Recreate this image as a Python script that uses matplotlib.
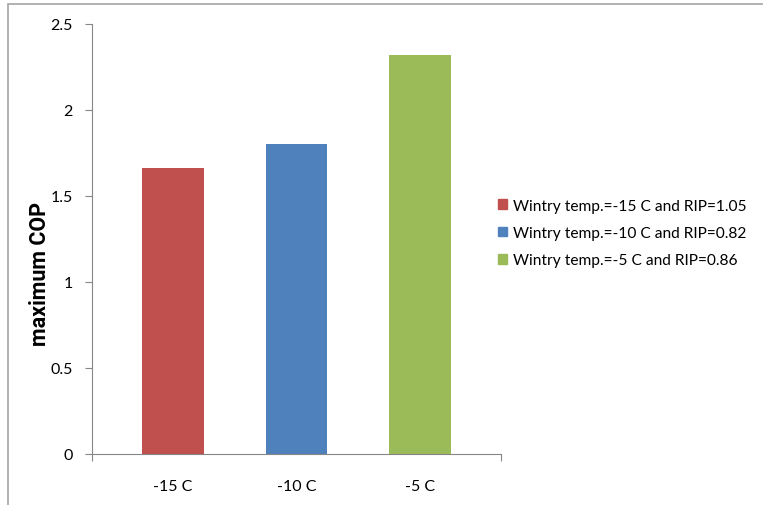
import matplotlib.pyplot as plt
from matplotlib.patches import Rectangle

categories = ["-15 C", "-10 C", "-5 C"]
cop = [1.66, 1.80, 2.32]
legend_labels = ["Wintry temp.=-15 C and RIP=1.05",
                 "Wintry temp.=-10 C and RIP=0.82",
                 "Wintry temp.=-5 C and RIP=0.86"]
colors = ["#C0504D", "#4F81BD", "#9BBB59"]

plt.rcParams['font.family'] = ['Lato', 'DejaVu Sans']

W, H = 763, 506
fig = plt.figure(figsize=(W / 100, H / 100), dpi=100)
ax = fig.add_axes([92 / W, 1 - 455 / H, (501 - 92) / W, (455 - 25) / H])

x = list(range(len(categories)))
bars = ax.bar(x, cop, width=0.5, color=colors, label=legend_labels)

ax.set_xlim(-0.656, 2.656)
ax.set_ylim(0, 2.5)
ax.set_yticks([0, 0.5, 1, 1.5, 2, 2.5])
ax.set_yticklabels(["0", "0.5", "1", "1.5", "2", "2.5"], fontsize=11.5)

# category ticks only at the axis ends, labels under the bars
ax.set_xticks([-0.656, 2.656])
ax.set_xticklabels(["", ""])
ax.set_xticks(x, minor=True)
ax.set_xticklabels(categories, minor=True, fontsize=11.5)
ax.tick_params(axis='x', which='minor', length=0, pad=18)
ax.tick_params(axis='x', which='major', length=5, color="#868686")
ax.tick_params(axis='y', length=5, color="#868686", pad=9)

for s in ["top", "right"]:
    ax.spines[s].set_visible(False)
for s in ["left", "bottom"]:
    ax.spines[s].set_color("#868686")

ax.set_ylabel("maximum COP", fontsize=15.5, fontweight="bold",
              family=["Roboto", "DejaVu Sans"])
ax.yaxis.set_label_coords(-0.1, 0.42)

handles = [Rectangle((0, 0), 1, 1, color=c) for c in colors]
fig.legend(handles, legend_labels, loc="center left",
           bbox_to_anchor=(484 / W, 1 - 234 / H), frameon=False,
           fontsize=11.2, handlelength=0.6, handleheight=0.6,
           handletextpad=0.35, labelspacing=0.85)

fig.patches.append(Rectangle((8 / W, -0.01), 1.0, 1 - 5 / H + 0.01,
                             transform=fig.transFigure, fill=False,
                             edgecolor="#A6A6A6", linewidth=1.2))

fig.savefig("out.png", dpi=100)
